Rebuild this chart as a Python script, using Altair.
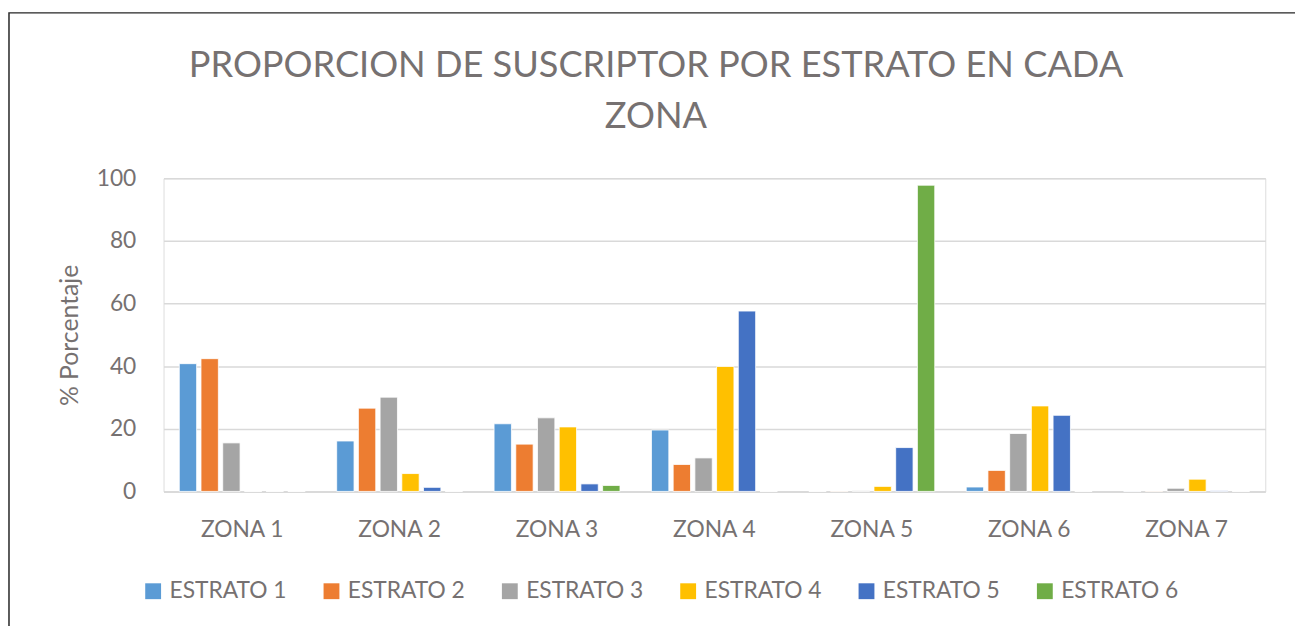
import altair as alt
import pandas as pd

zonas = ["ZONA 1", "ZONA 2", "ZONA 3", "ZONA 4", "ZONA 5", "ZONA 6", "ZONA 7"]
estratos = ["ESTRATO 1", "ESTRATO 2", "ESTRATO 3", "ESTRATO 4", "ESTRATO 5", "ESTRATO 6"]
estrato_1 = [40.8, 16.1, 21.6, 19.6, 0.0, 1.4, 0.05]
estrato_2 = [42.4, 26.6, 15.1, 8.6, 0.1, 6.7, 0.1]
estrato_3 = [15.5, 30.1, 23.5, 10.7, 0.2, 18.5, 1.0]
estrato_4 = [0.0, 5.7, 20.6, 39.9, 1.6, 27.3, 3.9]
estrato_5 = [0.0, 1.3, 2.4, 57.6, 14.0, 24.3, 0.2]
estrato_6 = [0.0, 0.0, 1.9, 0.0, 97.8, 0.0, 0.0]
colores = ["#5B9BD5", "#ED7D31", "#A5A5A5", "#FFC000", "#4472C4", "#70AD47"]
titulo_1 = "PROPORCION DE SUSCRIPTOR POR ESTRATO EN CADA"
titulo_2 = "ZONA"

series = [estrato_1, estrato_2, estrato_3, estrato_4, estrato_5, estrato_6]
rows = []
for est, vals in zip(estratos, series):
    for z, v in zip(zonas, vals):
        rows.append({"zona": z, "estrato": est, "valor": v})
df = pd.DataFrame(rows)

FONT = "Lato"
GRAY = "#767171"

bars = alt.Chart(df).mark_bar(stroke="white", strokeWidth=0.8).encode(
    x=alt.X("zona:N", sort=zonas, title=None,
            scale=alt.Scale(paddingInner=0.2, paddingOuter=0.1),
            axis=alt.Axis(labelAngle=0, labelFontSize=23, labelPadding=28,
                          labelColor=GRAY, labelFont=FONT, ticks=False,
                          domainColor="#D9D9D9", domainWidth=1.5)),
    xOffset=alt.XOffset("estrato:N", sort=estratos,
                        scale=alt.Scale(paddingInner=0.2, paddingOuter=0.0)),
    y=alt.Y("valor:Q", title="% Porcentaje",
            scale=alt.Scale(domain=[0, 100], nice=False),
            axis=alt.Axis(values=[0, 20, 40, 60, 80, 100], labelFontSize=23,
                          labelColor=GRAY, labelFont=FONT, labelPadding=28,
                          ticks=False, domain=False, gridColor="#D9D9D9",
                          gridWidth=1.5, titleFontSize=25, titleColor=GRAY,
                          titleFont=FONT, titleFontWeight="normal",
                          titlePadding=14)),
    color=alt.Color("estrato:N", sort=estratos,
                    scale=alt.Scale(domain=estratos, range=colores),
                    legend=alt.Legend(title=None, orient="none", direction="horizontal",
                                      legendX=-22, legendY=405, columns=6,
                                      symbolType="square", symbolSize=256,
                                      symbolStrokeWidth=0, labelFontSize=23,
                                      labelColor=GRAY, labelFont=FONT,
                                      labelOffset=5, columnPadding=33,
                                      labelLimit=250)),
)

def title_line(text, ypos):
    return alt.Chart(pd.DataFrame({"linea": [text]})).mark_text(
        font=FONT, fontSize=36.5, color=GRAY, align="center", baseline="alphabetic"
    ).encode(text="linea:N", x=alt.value(497), y=alt.value(ypos))

t1 = title_line(titulo_1, -102)
t2 = title_line(titulo_2, -51)

frame = alt.Chart(alt.Data(values=[{}])).mark_rect(
    fill=None, stroke="#262626", strokeWidth=1.5
).encode(
    x=alt.value(-156), x2=alt.value(1160),
    y=alt.value(-167), y2=alt.value(520),
)

chart = alt.layer(bars, t1, t2, frame).properties(
    width=1112, height=316,
    autosize=alt.AutoSizeParams(type="none"),
    padding={"left": 157, "top": 169, "right": 30, "bottom": 140},
).configure_view(stroke=None).configure(background="white")

chart.save("out.html", embed_options={"renderer": "svg", "actions": False})
